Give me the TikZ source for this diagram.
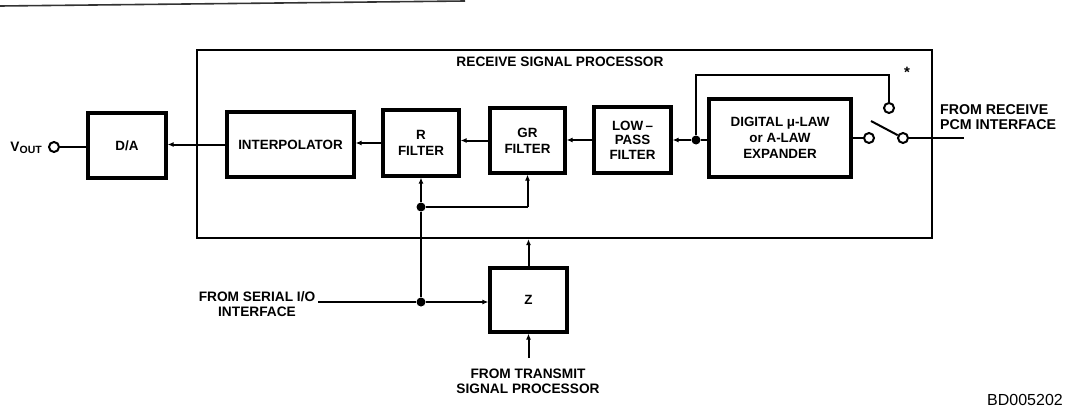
\documentclass[tikz,border=0pt]{standalone}
\usepackage{fontspec}
\setmainfont{Liberation Sans}
\usetikzlibrary{arrows.meta}
\begin{document}
\begin{tikzpicture}[x=1pt,y=-1pt,
  blk/.style={draw,line width=3.2pt,rectangle,inner sep=0pt,align=center,font=\fontsize{13.4}{16}\selectfont\bfseries},
  wire/.style={line width=2pt},
  arr/.style={wire,-{Latex[length=6pt,width=5pt]}},
  term/.style={draw,circle,line width=2pt,minimum size=10pt,inner sep=0pt,fill=white},
  dot/.style={circle,fill=black,minimum size=9pt,inner sep=0pt},
  lbl/.style={font=\fontsize{13.7}{15}\selectfont\bfseries,inner sep=0pt}]
\useasboundingbox (0,0) rectangle (1083,412);
% scan edge line at top
\draw[line width=1.6pt,black!80] (0,6) -- (465,1);
% big box
\node[draw,line width=2.2pt,minimum width=735pt,minimum height=188pt,inner sep=0pt] (big) at (564.5,144) {};
\node[lbl] (title) at (560,62) {RECEIVE SIGNAL PROCESSOR};
% blocks
\node[blk,minimum width=78pt,minimum height=65pt] (da) at (127,145.5) {D/A};
\node[blk,minimum width=127pt,minimum height=65pt] (interp) at (290.5,144.5) {INTERPOLATOR};
\node[blk,minimum width=76pt,minimum height=66pt] (rf) at (421,143) {R\\FILTER};
\node[blk,minimum width=75pt,minimum height=65pt] (grf) at (527.5,140.5) {GR\\FILTER};
\node[blk,minimum width=77pt,minimum height=66pt,font=\fontsize{13.4}{14.5}\selectfont\bfseries] (lpf) at (632.5,140) {LOW\,--\\PASS\\FILTER};
\node[blk,minimum width=142pt,minimum height=78pt] (exp) at (780,138) {DIGITAL μ-LAW\\or A-LAW\\EXPANDER};
\node[blk,minimum width=77pt,minimum height=64pt] (z) at (528.5,300) {Z};
% Vout
\node[term] (vo) at (54,147) {};
\node[anchor=east,inner sep=0pt,font=\bfseries] (vlabel) at (42,148) {\fontsize{13.7}{15}\selectfont V\raisebox{-1.5pt}{\fontsize{10.5}{12}\selectfont OUT}};
\draw[wire] (vo) -- (vo -| da.west);
% main chain
\draw[arr] (interp.west) -- (interp.west -| da.east);
\draw[arr] (rf.west) -- (rf.west -| interp.east);
\draw[arr] (grf.west) -- (grf.west -| rf.east);
\draw[arr] (lpf.west) -- (lpf.west -| grf.east);
\node[dot] (j1) at (696,140) {};
\draw[arr] (j1) -- (j1 -| lpf.east);
\draw[wire] (j1) -- (j1 -| exp.west);
% switch
\node[term] (c1) at (869,138) {};
\node[term] (c2) at (889,108) {};
\node[term] (c3) at (903,138) {};
\coordinate (arm) at (871,121);
\coordinate (pcm) at (964,138);
\coordinate (tl) at (696,75);
\coordinate (tr) at (889,75);
\draw[wire] (j1) -- (tl) -- (tr) -- (c2);
\draw[wire] (exp.east |- c1) -- (c1);
\draw[wire] (c3) -- (arm);
\draw[wire] (c3) -- (pcm);
\node[font=\fontsize{15}{15}\selectfont\bfseries,inner sep=0pt] (star) at (907,72) {*};
\node[lbl,anchor=west,align=left,font=\fontsize{14.2}{14.5}\selectfont\bfseries] (rx) at (940,117) {FROM RECEIVE\\PCM INTERFACE};
% filter control
\node[dot] (j2) at (421,207) {};
\node[dot] (j3) at (421,302) {};
\coordinate (gg) at (527.5,207);
\draw[arr] (j2) -- (rf.south);
\draw[wire] (j2) -- (gg);
\draw[arr] (gg) -- (grf.south);
\draw[wire] (j2) -- (j3);
\coordinate (ser) at (318,302);
\draw[wire] (ser) -- (j3);
\draw[arr] (j3) -- (j3 -| z.west);
\draw[arr] (z.north) -- (z.north |- big.south);
\coordinate (tx) at (528.5,358);
\draw[arr] (tx) -- (z.south);
\node[lbl,align=center] (serl) at (257,304) {FROM SERIAL I/O\\INTERFACE};
\node[lbl,align=center] (txl) at (528,381) {FROM TRANSMIT\\SIGNAL PROCESSOR};
\node[font=\fontsize{16}{16}\selectfont,inner sep=0pt] (bd) at (1025,400) {BD005202};
\end{tikzpicture}
\end{document}
